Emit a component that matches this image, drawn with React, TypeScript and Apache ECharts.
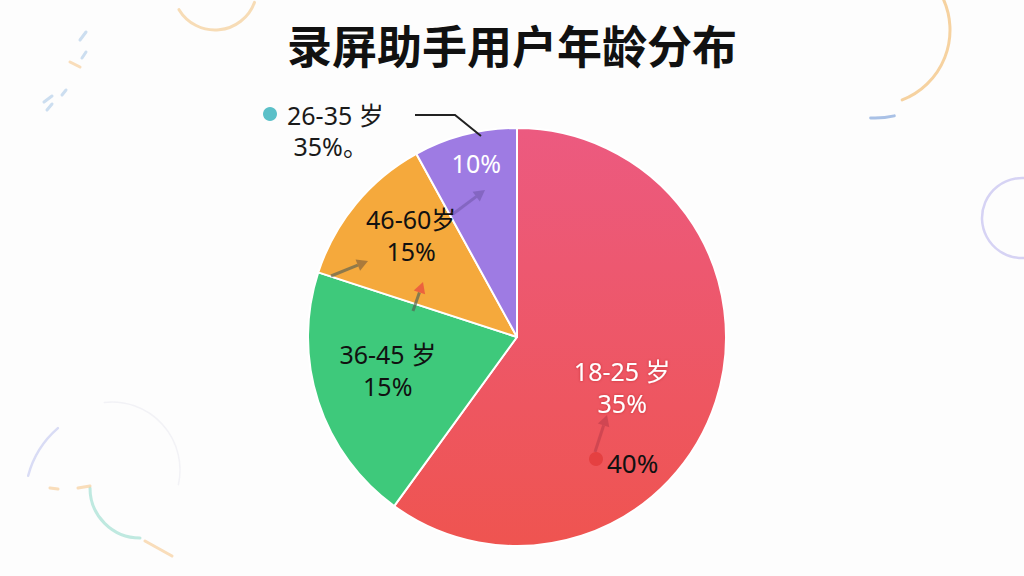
import React, { useEffect, useRef } from "react";
import * as echarts from "echarts";

// ---- Data ----
const TITLE = "录屏助手用户年龄分布";
const categories = ["18-25 岁", "36-45 岁", "46-60岁", "26-35 岁"];
const sliceValues = [60, 20, 12, 8]; // visual slice shares
const sliceLabels = ["18-25 岁\n35%", "36-45 岁\n15%", "46-60岁\n15%", "10%"];
const calloutName = "26-35 岁";
const calloutValue = "35%。";
const extraLabel = "40%";

const sliceColors: any[] = [
  {
    type: "linear", x: 0, y: 0, x2: 0, y2: 1,
    colorStops: [
      { offset: 0, color: "#ec5a80" },
      { offset: 1, color: "#ef5450" },
    ],
  },
  "#3ec97b",
  "#f5a93c",
  "#9e7be3",
];
const labelColors = ["#ffffff", "#111111", "#111111", "#ffffff"];
const labelOffsets = [
  [3, 17],
  [-27, 0],
  [-23, -33],
  [-14, -70],
];

const FONT = "'Noto Sans', 'Noto Sans CJK SC', sans-serif";

function arrow(x1: number, y1: number, x2: number, y2: number, color: string, headColor?: string, opacity = 0.6) {
  const ang = Math.atan2(y2 - y1, x2 - x1);
  const L = 11, W = 6;
  const bx = x2 - L * Math.cos(ang), by = y2 - L * Math.sin(ang);
  const px = -Math.sin(ang) * W, py = Math.cos(ang) * W;
  return [
    {
      type: "line",
      silent: true,
      z: 20,
      shape: { x1, y1, x2: bx, y2: by },
      style: { stroke: color, lineWidth: 3, opacity },
    },
    {
      type: "polygon",
      silent: true,
      z: 20,
      shape: { points: [[x2, y2], [bx + px, by + py], [bx - px, by - py]] },
      style: { fill: headColor || color, opacity },
    },
  ];
}

export default function App() {
  const ref = useRef<HTMLDivElement>(null);
  useEffect(() => {
    document.body.style.margin = "0";
    const chart = echarts.init(ref.current!, null, { renderer: "svg" });
    const deco = (shape: any, stroke: string, lw = 3, opacity = 1) => ({
      type: "arc",
      silent: true,
      z: 0,
      shape,
      style: { stroke, lineWidth: lw, fill: "none", opacity, lineCap: "round" },
    });
    const dash = (x1: number, y1: number, x2: number, y2: number, c: string) => ({
      type: "line",
      silent: true,
      shape: { x1, y1, x2, y2 },
      style: { stroke: c, lineWidth: 3, lineCap: "round", opacity: 0.7 },
    });
    chart.setOption({
      animation: false,
      backgroundColor: "#fdfdfd",
      title: {
        text: TITLE,
        left: "center",
        top: 17,
        textStyle: {
          fontFamily: "'Noto Sans CJK SC', sans-serif",
          fontSize: 45,
          fontWeight: "bold",
          color: "#111111",
        },
      },
      graphic: [
        // background decorations
        deco({ cx: 215, cy: -12, r: 42, startAngle: 0.35, endAngle: 2.6 }, "#f7dcb6"),
        deco({ cx: 875, cy: 30, r: 75, startAngle: -0.45, endAngle: 1.2 }, "#f6d2a0"),
        deco({ cx: 875, cy: 30, r: 88, startAngle: 1.35, endAngle: 1.62 }, "#a9c1e6"),
        deco({ cx: 1022, cy: 218, r: 40, startAngle: 1.2, endAngle: 5.0 }, "#d6d3f4", 2.5),
        deco({ cx: 140, cy: 488, r: 50, startAngle: Math.PI / 2, endAngle: Math.PI, clockwise: true }, "#bfe9e0"),
        deco({ cx: 120, cy: 500, r: 95, startAngle: 3.4, endAngle: 4.0 }, "#d9dcf5", 2.5),
        deco({ cx: 112, cy: 470, r: 68, startAngle: 4.6, endAngle: 6.5 }, "#f2f2f6", 1.5),
        dash(145, 541, 172, 556, "#f6cf9c"),
        dash(50, 488, 58, 489, "#f6cf9c"),
        dash(78, 488, 90, 486, "#f6cf9c"),
        dash(86, 32, 80, 40, "#b6d0ea"),
        dash(86, 52, 82, 58, "#b6d0ea"),
        dash(70, 62, 80, 67, "#f6cf9c"),
        dash(66, 90, 62, 95, "#b6d0ea"),
        dash(52, 96, 44, 102, "#b6d0ea"),
        dash(52, 104, 47, 110, "#b6d0ea"),
        // callout for the purple slice
        {
          type: "circle",
          silent: true,
          z: 10,
          shape: { cx: 270, cy: 114, r: 7 },
          style: { fill: "#5bc0c8" },
        },
        {
          type: "text",
          silent: true,
          z: 10,
          x: 287,
          y: 99,
          style: {
            text: calloutName + "\n " + calloutValue,
            fontFamily: FONT,
            fontSize: 25,
            lineHeight: 31,
            fill: "#1a1a1a",
            verticalAlign: "top",
          },
        },
        {
          type: "polyline",
          silent: true,
          z: 10,
          shape: { points: [[415, 115], [455, 115], [481, 136]] },
          style: { stroke: "#222222", lineWidth: 2, fill: "none" },
        },
        // in-pie artefacts
        ...arrow(453, 214, 485, 190, "#6f55a8", undefined, 0.55),
        ...arrow(331, 276, 368, 261, "#4a5a55", "#7a5b3a", 0.6),
        ...arrow(413, 311, 423, 282, "#556655", "#e8453f", 0.7),
        ...arrow(595, 452, 607, 415, "#b83a48", undefined, 0.55),
        {
          type: "circle",
          silent: true,
          z: 20,
          shape: { cx: 596, cy: 459, r: 7 },
          style: { fill: "#e23b3b", opacity: 0.8 },
        },
        {
          type: "text",
          silent: true,
          z: 20,
          x: 607,
          y: 463,
          style: {
            text: extraLabel,
            fontFamily: FONT,
            fontSize: 26,
            fill: "#111111",
            verticalAlign: "middle",
          },
        },
      ],
      series: [
        {
          type: "pie",
          center: [517, 337],
          radius: 209,
          startAngle: 90,
          clockwise: true,
          z: 2,
          itemStyle: { borderColor: "#ffffff", borderWidth: 2 },
          labelLine: { show: false },
          label: {
            show: true,
            position: "inside",
            fontFamily: FONT,
            fontSize: 25,
            lineHeight: 32,
            align: "center",
            formatter: (p: any) => sliceLabels[p.dataIndex],
          },
          labelLayout: (p: any) => ({
            dx: labelOffsets[p.dataIndex][0],
            dy: labelOffsets[p.dataIndex][1],
          }),
          data: categories.map((name, i) => ({
            name,
            value: sliceValues[i],
            itemStyle: { color: sliceColors[i] },
            label: {
              color: labelColors[i],
              textShadowColor: i === 0 ? "rgba(150,20,30,0.45)" : "transparent",
              textShadowBlur: i === 0 ? 3 : 0,
            },
          })),
        },
      ],
    });
    return () => chart.dispose();
  }, []);
  return (
    <div
      ref={ref}
      style={{ position: "fixed", left: 0, top: 0, width: 1024, height: 576 }}
    />
  );
}
